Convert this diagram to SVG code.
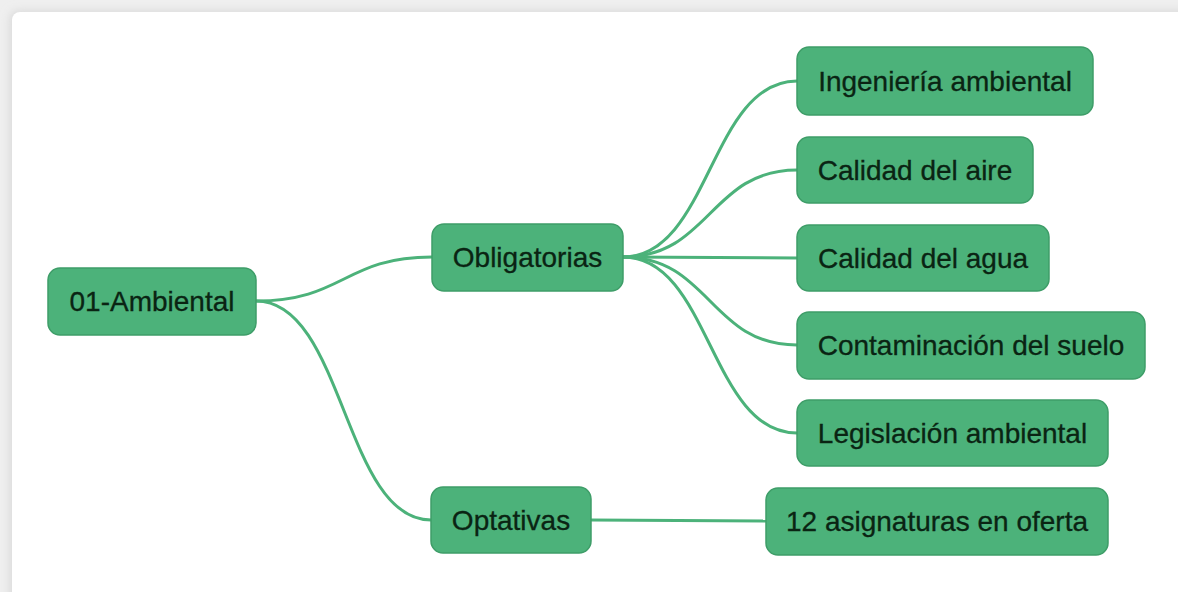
<svg xmlns="http://www.w3.org/2000/svg" width="1178" height="592" viewBox="0 0 1178 592">
  <defs>
    <filter id="shadow" x="-5%" y="-5%" width="110%" height="110%">
      <feGaussianBlur stdDeviation="5"/>
    </filter>
    <style>
      .node rect { fill: #4cb27a; stroke: #3e9d68; stroke-width: 1.5; }
      .node text { font-family: "Liberation Sans", Arial, sans-serif; font-size: 28px; fill: #0a2413; stroke: #0a2413; stroke-width: 0.3; text-anchor: middle; }
      .edge { fill: none; stroke: #4cb27a; stroke-width: 3; }
    </style>
  </defs>
  <rect x="0" y="0" width="1178" height="592" fill="#efefef"/>
  <rect x="10" y="11" width="1200" height="620" rx="8" fill="#d8d8d8" filter="url(#shadow)"/>
  <rect x="12" y="12" width="1200" height="620" rx="8" fill="#ffffff"/>

  <g id="connectors">
    <path class="edge" d="M256,301 C344,301 344,257 432,257"/>
    <path class="edge" d="M256,301 C344,301 344,520 431,520"/>
    <path class="edge" d="M623,257 C710,257 710,81 797,81"/>
    <path class="edge" d="M623,257 C710,257 710,170 797,170"/>
    <path class="edge" d="M623,257 L797,258"/>
    <path class="edge" d="M623,257 C710,257 710,345 797,345"/>
    <path class="edge" d="M623,257 C710,257 710,433 797,433"/>
    <path class="edge" d="M591,520 L766,521"/>
  </g>

  <g id="node-root" class="node">
    <rect x="48" y="268" width="208" height="67" rx="12"/>
    <text x="152" y="311">01-Ambiental</text>
  </g>
  <g id="node-obligatorias" class="node">
    <rect x="432" y="224" width="191" height="67" rx="12"/>
    <text x="527.5" y="267">Obligatorias</text>
  </g>
  <g id="node-optativas" class="node">
    <rect x="431" y="487" width="160" height="66" rx="12"/>
    <text x="511" y="530">Optativas</text>
  </g>
  <g id="node-ingenieria" class="node">
    <rect x="797" y="47" width="296" height="68" rx="12"/>
    <text x="945" y="91">Ingeniería ambiental</text>
  </g>
  <g id="node-aire" class="node">
    <rect x="797" y="137" width="236" height="66" rx="12"/>
    <text x="915" y="180">Calidad del aire</text>
  </g>
  <g id="node-agua" class="node">
    <rect x="797" y="225" width="252" height="66" rx="12"/>
    <text x="923" y="268">Calidad del agua</text>
  </g>
  <g id="node-suelo" class="node">
    <rect x="797" y="312" width="348" height="67" rx="12"/>
    <text x="971" y="355">Contaminación del suelo</text>
  </g>
  <g id="node-legislacion" class="node">
    <rect x="797" y="400" width="311" height="66" rx="12"/>
    <text x="952.5" y="443">Legislación ambiental</text>
  </g>
  <g id="node-asignaturas" class="node">
    <rect x="766" y="488" width="342" height="67" rx="12"/>
    <text x="937" y="531">12 asignaturas en oferta</text>
  </g>
</svg>
